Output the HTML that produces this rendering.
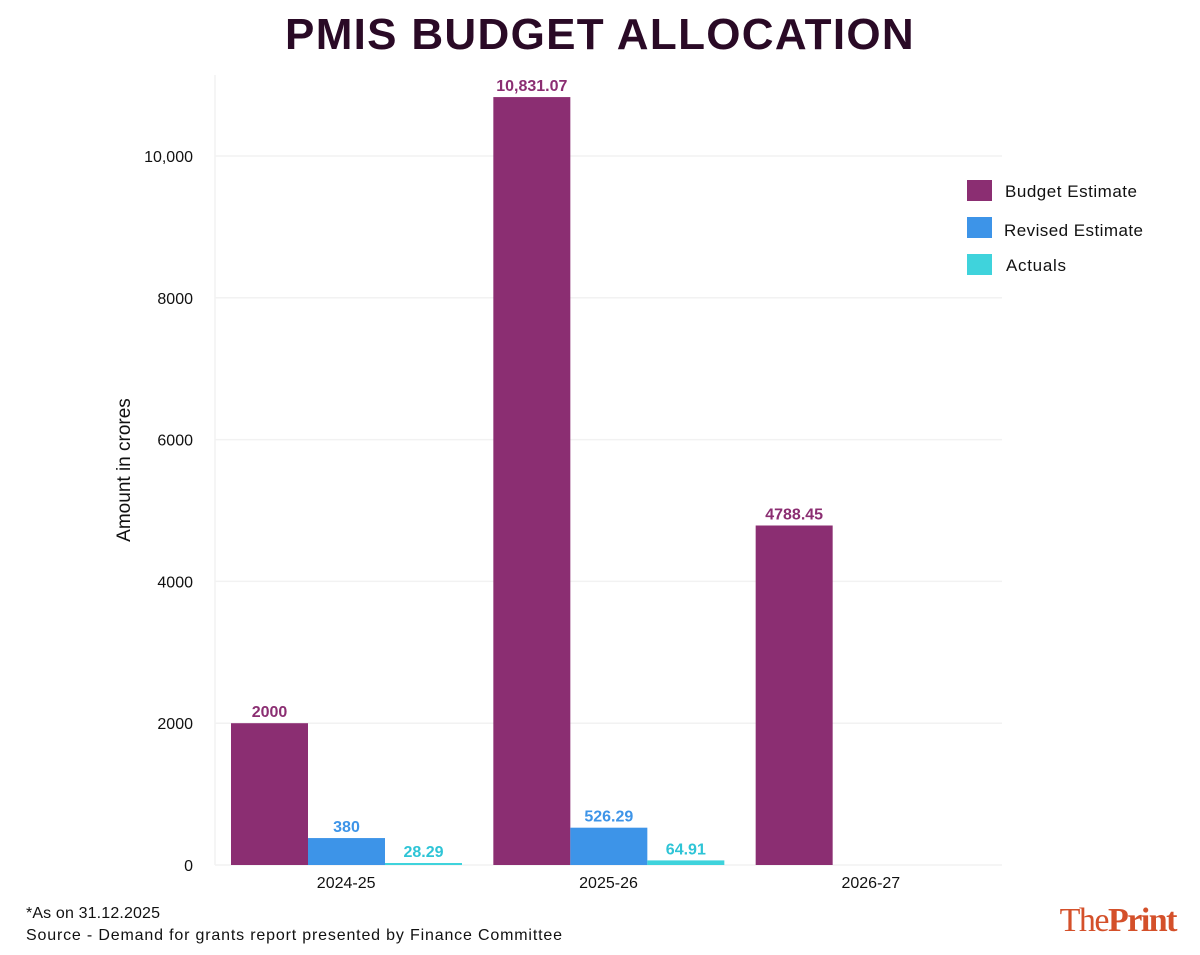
<!DOCTYPE html>
<html><head><meta charset="utf-8"><style>
body{margin:0;background:#fff;width:1200px;height:950px;overflow:hidden;font-family:"Liberation Sans",sans-serif}
</style></head><body>
<svg id="chart" width="1200" height="950" xmlns="http://www.w3.org/2000/svg" font-family="Liberation Sans, sans-serif">
<text x="600" y="49" text-anchor="middle" font-size="44" font-weight="bold" fill="#2a0a26" letter-spacing="1.3">PMIS BUDGET ALLOCATION</text>
<text transform="translate(130,470) rotate(-90)" text-anchor="middle" font-size="19" fill="#111">Amount in crores</text>
<g id="grid"></g><g id="bars"></g><g id="labels"></g>
<g>
<rect x="967" y="180" width="25" height="21" fill="#8b2e72"/>
<text x="1005" y="197" font-size="17" fill="#111" textLength="132">Budget Estimate</text>
<rect x="967" y="217" width="25" height="21" fill="#3d94e8"/>
<text x="1004" y="236" font-size="17" fill="#111" textLength="139">Revised Estimate</text>
<rect x="967" y="254" width="25" height="21" fill="#3fd3dc"/>
<text x="1006" y="271" font-size="17" fill="#111" textLength="60">Actuals</text>
</g>
<text x="26" y="918" font-size="16" fill="#111" textLength="134">*As on 31.12.2025</text>
<text x="26" y="940" font-size="16" fill="#111" textLength="536">Source - Demand for grants report presented by Finance Committee</text>
<text x="1176" y="931" text-anchor="end" style="font-family:'Liberation Serif',serif" font-size="34" fill="#d4502a" letter-spacing="-1.5">The<tspan font-weight="bold">Print</tspan></text>
</svg>
<script>
const categories=["2024-25","2025-26","2026-27"];
const budget=[2000,10831.07,4788.45];
const revised=[380,526.29,null];
const actuals=[28.29,64.91,null];
const budgetLabels=["2000","10,831.07","4788.45"];
const revisedLabels=["380","526.29",""];
const actualLabels=["28.29","64.91",""];
const yTicks=[0,2000,4000,6000,8000,10000];
const yTickLabels=["0","2000","4000","6000","8000","10,000"];
const NS="http://www.w3.org/2000/svg";
const x0=215,x1=1002,yZero=865,y10k=156;
const y=v=>yZero-(v/10000)*(yZero-y10k);
const band=(x1-x0)/categories.length;
const bw=77;
function mk(t,a,p){const e=document.createElementNS(NS,t);for(const k in a)e.setAttribute(k,a[k]);p.appendChild(e);return e;}
const grid=document.getElementById('grid'),bars=document.getElementById('bars'),labels=document.getElementById('labels');
const ax=mk('line',{x1:x0,x2:x0,y1:75,y2:yZero,stroke:'#f2f2f2','stroke-width':1.5},grid);


yTicks.forEach((t,i)=>{
 const g=mk('line',{x1:x0,x2:x1,y1:y(t),y2:y(t),stroke:'#f2f2f2','stroke-width':1.5},grid);
 
 
 const l=mk('text',{x:x0-22,y:y(t)+6,'text-anchor':'end','font-size':16,fill:'#111'},grid);
 l.textContent=yTickLabels[i];
 
 
});
const series=[[budget,budgetLabels,'#8b2e72','#8b2e72'],[revised,revisedLabels,'#3d94e8','#3d94e8'],[actuals,actualLabels,'#3fd3dc','#2ec4d6']];
categories.forEach((c,i)=>{
 const gx=x0+band*i+16;
 series.forEach((s,j)=>{
  const v=s[0][i]; if(v==null)return;
  const bx=gx+j*bw, by=y(v), h=Math.max(yZero-by,2);
  const r=mk('rect',{x:bx,y:yZero-h,width:bw,height:h,fill:s[2]},bars);
  
  
  const t=mk('text',{x:bx+bw/2,y:yZero-h-6,'text-anchor':'middle','font-size':16,'font-weight':'bold',fill:s[3]},labels);
  t.textContent=s[1][i];
  
  
 });
 const cl=mk('text',{x:x0+band*i+band/2,y:888,'text-anchor':'middle','font-size':16,fill:'#111'},labels);
 cl.textContent=c;
 
 
});
</script>
</body></html>
